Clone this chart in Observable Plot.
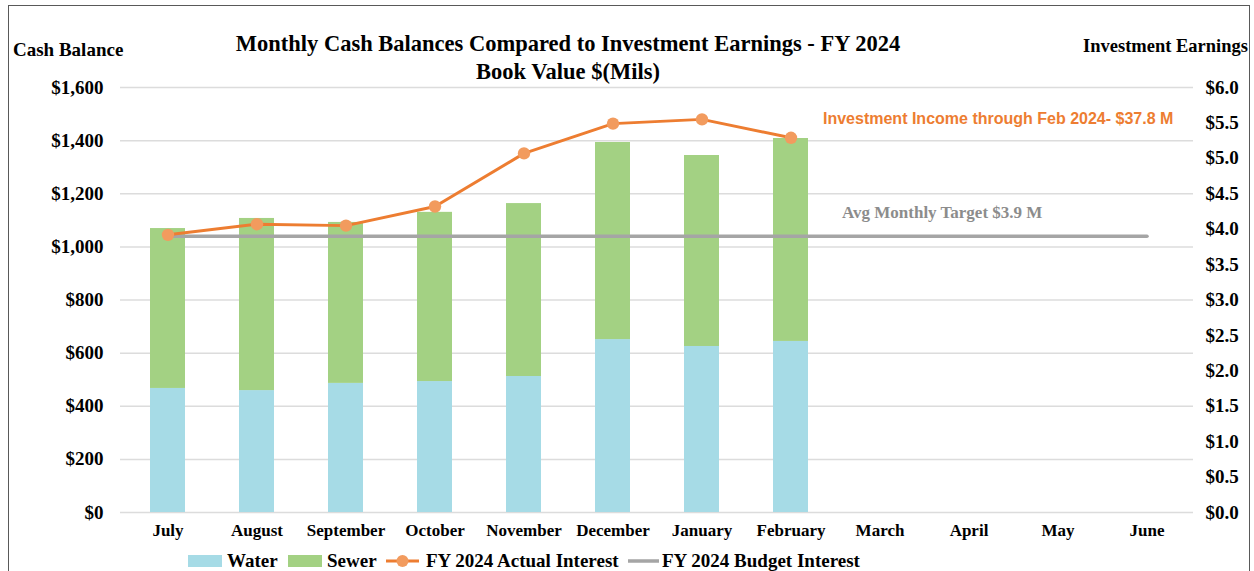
<!DOCTYPE html>
<html>
<head>
<meta charset="utf-8">
<script src="https://cdn.jsdelivr.net/npm/d3@7"></script>
<script src="https://cdn.jsdelivr.net/npm/@observablehq/plot@0.6"></script>
<style>
  html, body { margin: 0; padding: 0; background: #fff; }
  #wrap { position: relative; width: 1254px; height: 571px; overflow: hidden; font-family: "Liberation Serif", serif; font-weight: bold; color: #000; }
  #frame { position: absolute; left: 8px; top: 5px; width: 1242px; height: 580px; border: 1.5px solid #595959; box-sizing: border-box; }
  .abs { position: absolute; white-space: nowrap; }
  #title { left: 0; width: 1136px; text-align: center; top: 30px; font-size: 22.5px; line-height: 28px; }
  #ytitleL { left: 13px; top: 39px; font-size: 19px; }
  #ytitleR { left: 1083px; top: 36px; font-size: 18.5px; }
  #note1 { left: 823px; top: 110px; font-family: "Liberation Sans", sans-serif; font-size: 16px; color: #ED7D31; }
  #note2 { left: 842px; top: 203px; font-size: 17px; color: #8C8C8C; }
  #legend { left: 0; top: 549px; font-size: 19px; }
  #legend .item { display: flex; align-items: center; position: absolute; top: 0; height: 24px; }
  #plot { position: absolute; left: 0; top: 0; }
</style>
</head>
<body>
<div id="wrap">
  <div id="plot"></div>
  <div id="frame"></div>
  <div class="abs" id="title">Monthly Cash Balances Compared to Investment Earnings - FY 2024<br>Book Value $(Mils)</div>
  <div class="abs" id="ytitleL">Cash Balance</div>
  <div class="abs" id="ytitleR">Investment Earnings</div>
  <div class="abs" id="note1">Investment Income through Feb 2024- $37.8 M</div>
  <div class="abs" id="note2">Avg Monthly Target $3.9 M</div>
  <div class="abs" id="legend"></div>
</div>
<script>
// ---- data ----
const months = ["July", "August", "September", "October", "November", "December", "January", "February", "March", "April", "May", "June"];
const reportedMonths = ["July", "August", "September", "October", "November", "December", "January", "February"];
const water = [467, 459, 486, 493, 512, 651, 625, 644];
const sewer = [602, 648, 606, 637, 651, 742, 719, 764];
const actualInterest = [3.92, 4.07, 4.05, 4.32, 5.07, 5.49, 5.55, 5.29];
const budgetInterest = [3.9, 3.9, 3.9, 3.9, 3.9, 3.9, 3.9, 3.9, 3.9, 3.9, 3.9, 3.9];
const leftTicks = [0, 200, 400, 600, 800, 1000, 1200, 1400, 1600];
const rightTicks = [0.0, 0.5, 1.0, 1.5, 2.0, 2.5, 3.0, 3.5, 4.0, 4.5, 5.0, 5.5, 6.0];
const seriesNames = ["Water", "Sewer", "FY 2024 Actual Interest", "FY 2024 Budget Interest"];
const colors = {Water: "#A6DBE6", Sewer: "#A3D183", actualLine: "#ED7D31", actualDot: "#F29B5E", budget: "#A5A5A5"};

const leftMax = 1600, rightMax = 6.0;
const k = leftMax / rightMax; // maps right-axis values onto the left scale

const barRows = [];
reportedMonths.forEach((m, i) => {
  barRows.push({month: m, series: "Water", value: water[i]});
  barRows.push({month: m, series: "Sewer", value: sewer[i]});
});
const actualRows = reportedMonths.map((m, i) => ({month: m, v: actualInterest[i]}));
const budgetRows = months.map((m, i) => ({month: m, v: budgetInterest[i]}));

const chart = Plot.plot({
  width: 1254,
  height: 571,
  marginTop: 87,
  marginBottom: 59,
  marginLeft: 120,
  marginRight: 61,
  style: {background: "transparent", fontFamily: "Liberation Serif, serif", fontWeight: "bold", fontSize: "17px", color: "#000"},
  x: {domain: months, paddingInner: 0.61, paddingOuter: 0.305, label: null},
  y: {domain: [0, leftMax], label: null},
  color: {domain: ["Water", "Sewer"], range: [colors.Water, colors.Sewer]},
  marks: [
    Plot.gridY(leftTicks, {stroke: "#DCDCDC", strokeOpacity: 1, strokeWidth: 1.5}),
    Plot.barY(barRows, {x: "month", y: "value", fill: "series", order: ["Water", "Sewer"]}),
    Plot.line(budgetRows, {x: "month", y: d => d.v * k, stroke: colors.budget, strokeWidth: 3.5}),
    Plot.line(actualRows, {x: "month", y: d => d.v * k, stroke: colors.actualLine, strokeWidth: 3}),
    Plot.dot(actualRows, {x: "month", y: d => d.v * k, r: 6.2, fill: colors.actualDot, stroke: "none"}),
    Plot.axisY(leftTicks, {anchor: "left", tickSize: 0, tickPadding: 17, tickFormat: d => "$" + d3.format(",")(d), fontSize: 19, label: null}),
    Plot.axisY(rightTicks.map(v => v * k), {anchor: "right", tickSize: 0, tickPadding: 12, tickFormat: d => "$" + (d / k).toFixed(1), fontSize: 19, label: null}),
    Plot.axisX(months, {anchor: "bottom", tickSize: 0, tickPadding: 11, fontSize: 17, label: null})
  ]
});
document.getElementById("plot").appendChild(chart);

// ---- legend ----
const legend = document.getElementById("legend");
const legendX = [188, 288, 386, 628];
const swatch = (name) => {
  if (name === "Water" || name === "Sewer") {
    return `<svg width="34" height="12" style="margin-right:5px"><rect width="34" height="12" fill="${colors[name]}"/></svg>`;
  }
  if (name === "FY 2024 Actual Interest") {
    return `<svg width="33" height="14" style="margin-right:7px"><line x1="0" x2="33" y1="7" y2="7" stroke="${colors.actualLine}" stroke-width="3"/><circle cx="16.5" cy="7" r="6" fill="${colors.actualDot}"/></svg>`;
  }
  return `<svg width="31" height="14" style="margin-right:3px"><line x1="0" x2="31" y1="7" y2="7" stroke="${colors.budget}" stroke-width="3.5"/></svg>`;
};
seriesNames.forEach((name, i) => {
  const el = document.createElement("div");
  el.className = "item";
  el.style.left = legendX[i] + "px";
  el.innerHTML = swatch(name) + `<span>${name}</span>`;
  legend.appendChild(el);
});
</script>
</body>
</html>
